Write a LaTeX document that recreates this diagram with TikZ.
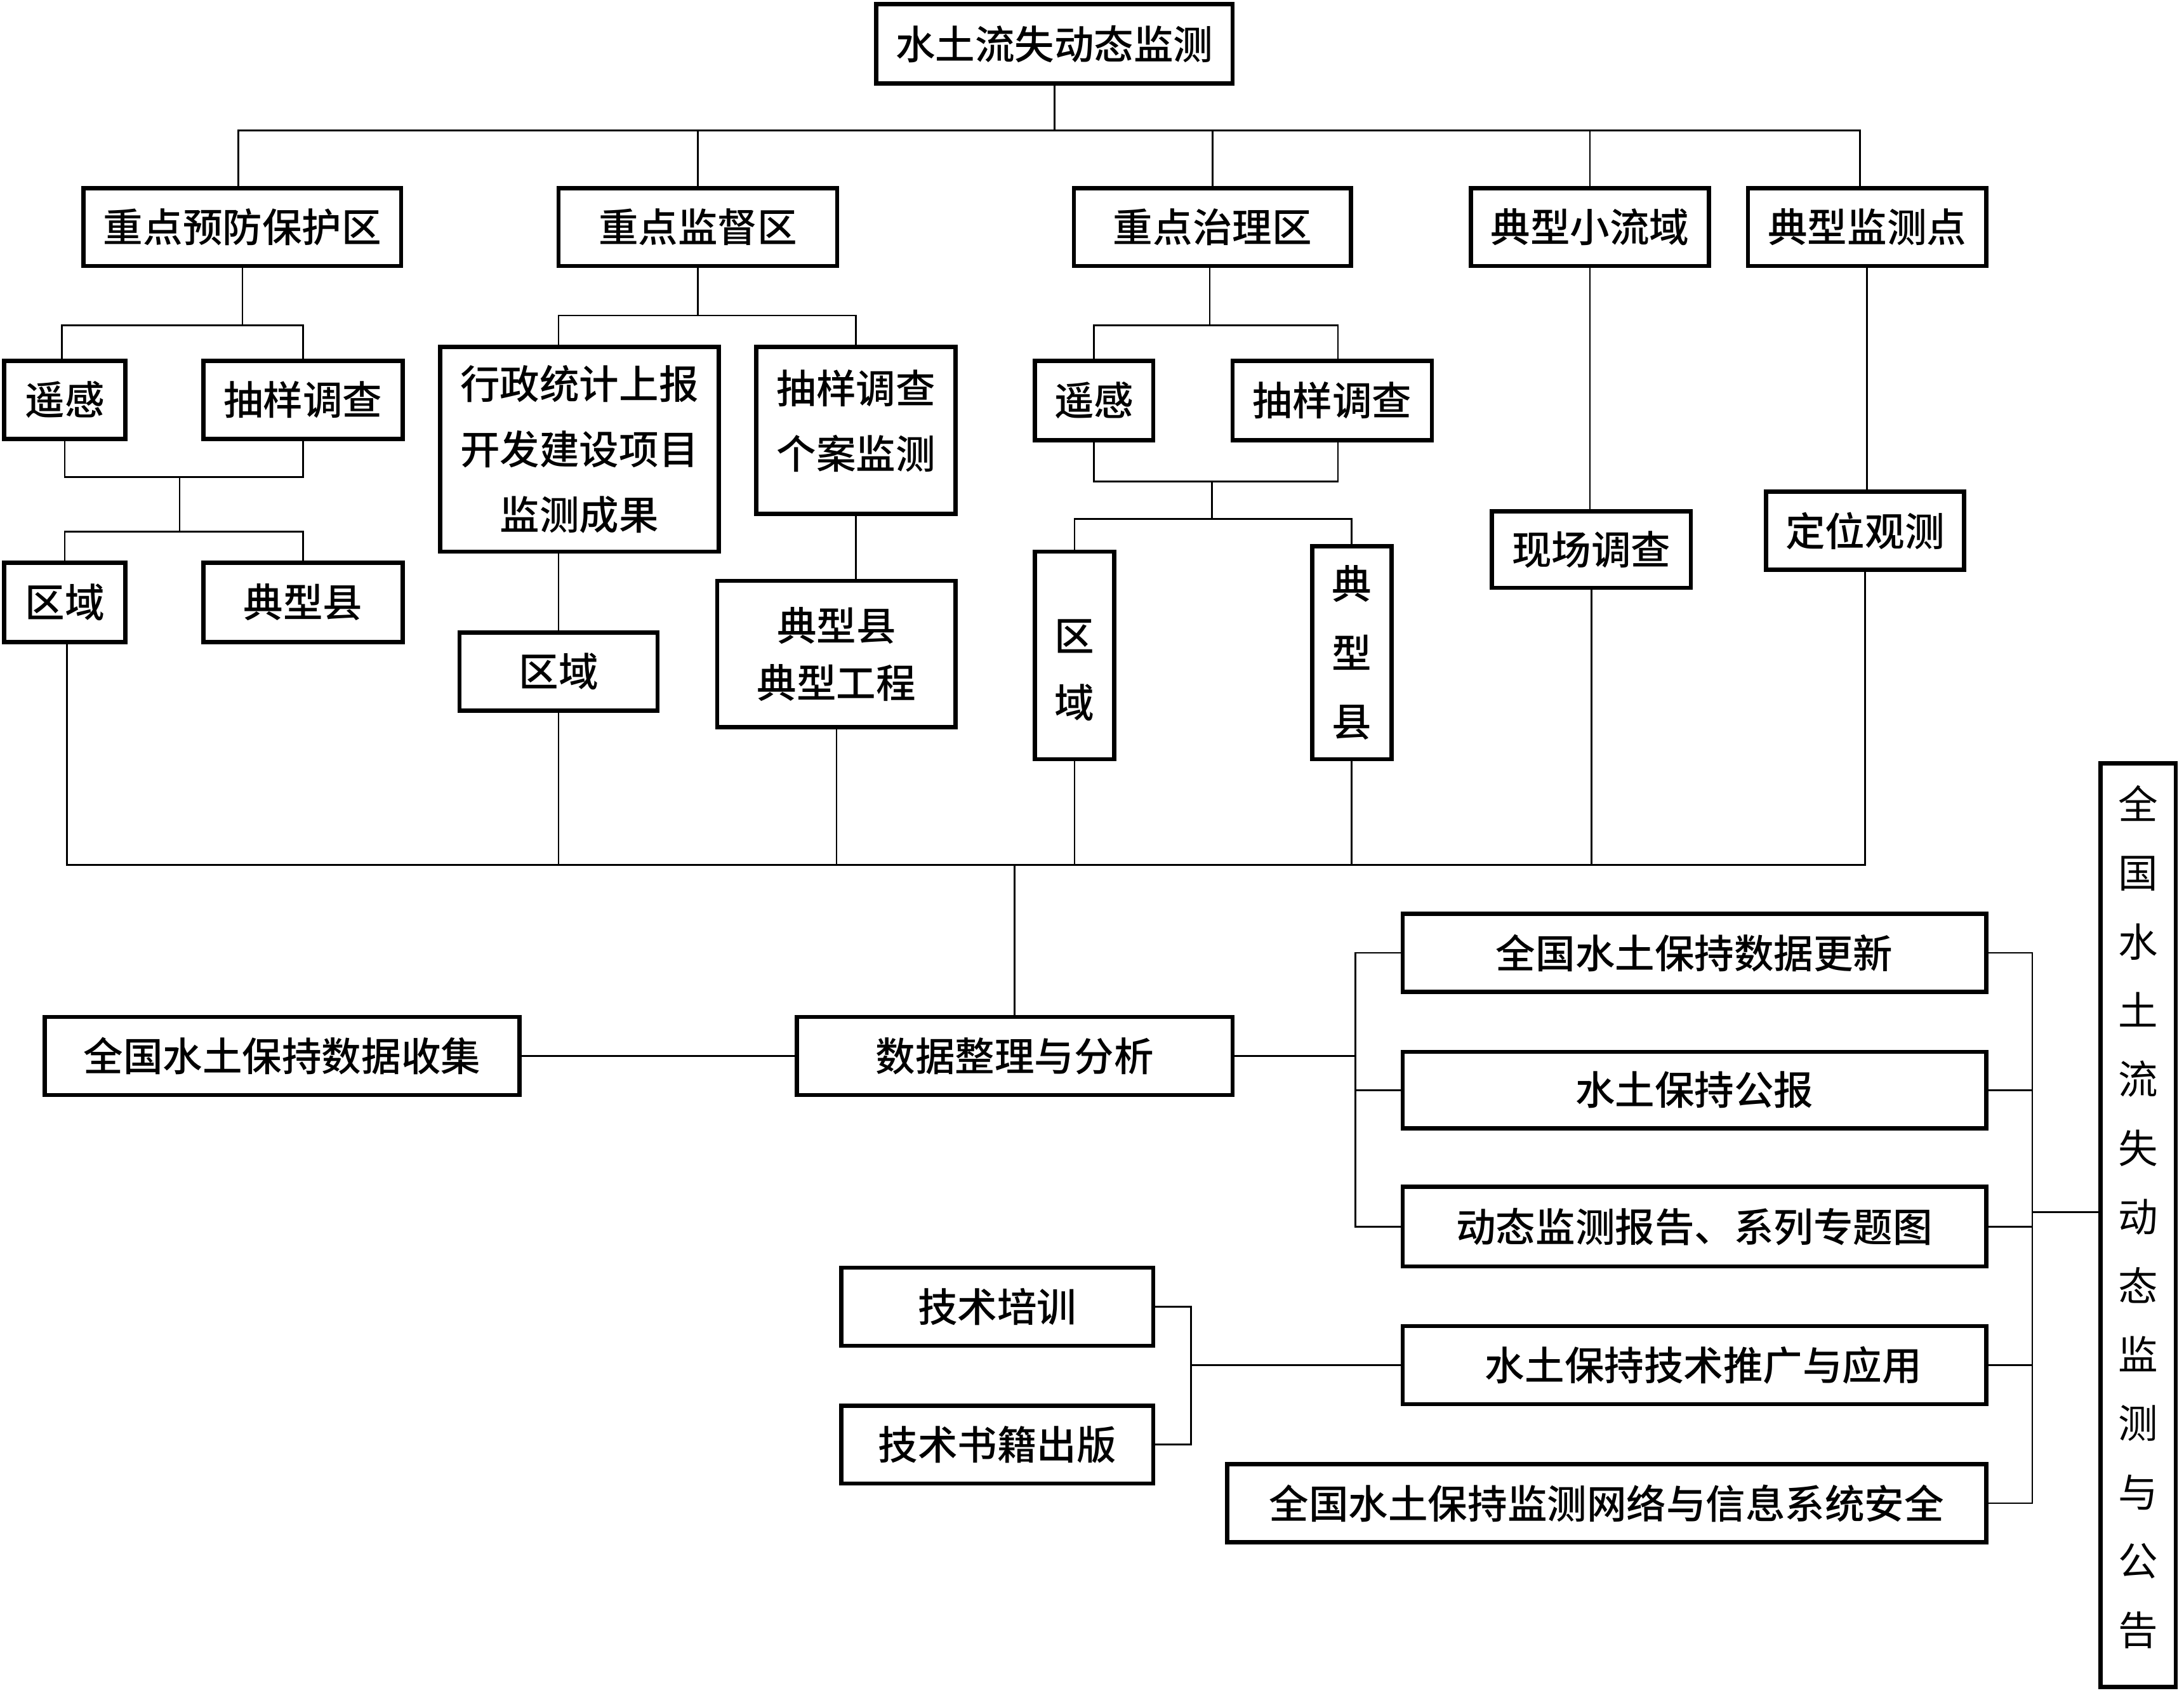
\documentclass[tikz,border=0pt]{standalone}
\usepackage{fontspec}
\usetikzlibrary{calc}
\IfFontExistsTF{Noto Sans CJK SC Medium}{%
  \newfontfamily\cjkb{Noto Sans CJK SC Medium}%
}{%
  \newfontfamily\cjkb{Noto Sans CJK SC}%
}
\newfontfamily\cjkr{Noto Sans CJK SC}
\tikzset{
  box/.style={draw, line width=3pt, inner sep=0pt, align=center,
    font=\cjkb\fontsize{28.5}{47}\selectfont},
  lbl/.style={inner sep=0pt, align=center, font=\cjkb\fontsize{28.5}{47}\selectfont},
  wh/.style 2 args={minimum width=#1pt, minimum height=#2pt},
  conn/.style={line width=1.2pt},
}
\begin{document}
\begin{tikzpicture}[x=1pt,y=-1pt]
\path[use as bounding box, fill=white] (0,0) rectangle (1568,1215);

% top
\node[box,wh={256}{57}] (top) at (757,31.5) {水土流失动态监测};
% level 2
\node[box,wh={228}{56}] (A) at (174,163) {重点预防保护区};
\node[box,wh={200}{56}] (B) at (501,163) {重点监督区};
\node[box,wh={199}{56}] (C) at (870.5,163) {重点治理区};
\node[box,wh={171}{56}] (D) at (1141.5,163) {典型小流域};
\node[box,wh={171}{56}] (E) at (1340.5,163) {典型监测点};
% A subtree
\node[box,wh={87}{56}]  (A1) at (46.5,287) {遥感};
\node[box,wh={143}{56}] (A2) at (217.5,287) {抽样调查};
\node[box,wh={87}{57}]  (A3) at (46.5,432.5) {区域};
\node[box,wh={143}{57}] (A4) at (217.5,432.5) {典型县};
% B subtree
\node[box,wh={200}{147}] (B1) at (416,322.5) {行政统计上报\\开发建设项目\\监测成果};
\node[box,wh={143}{120}] (B2) at (614.5,309) {};
\node[lbl] (B2t) at (614.5,302) {抽样调查\\个案监测};
\node[box,wh={142}{56}]  (B3) at (401,482) {区域};
\node[box,wh={171}{105},font=\cjkb\fontsize{28.5}{41}\selectfont] (B4) at (600.5,469.5) {典型县\\典型工程};
% C subtree
\node[box,wh={85}{57}]  (C1) at (785.5,287.5) {遥感};
\node[box,wh={143}{57}] (C2) at (956.5,287.5) {抽样调查};
\node[box,wh={57}{149}] (C3) at (771.5,470.5) {};
\node[lbl,font=\cjkb\fontsize{28.5}{48}\selectfont] (C3t) at (771.5,481) {区\\域};
\node[box,wh={57}{153},font=\cjkb\fontsize{28.5}{49.5}\selectfont] (C4) at (970.5,468.5) {典\\型\\县};
% D, E
\node[box,wh={143}{55}] (D1) at (1142.5,394.5) {现场调查};
\node[box,wh={142}{56}] (E1) at (1339,381) {定位观测};
% bottom part
\node[box,wh={313}{56}] (F) at (728.5,758) {数据整理与分析};
\node[box,wh={341}{56}] (G) at (202.5,758) {全国水土保持数据收集};
\node[box,wh={419}{56}] (R1) at (1216.5,684) {全国水土保持数据更新};
\node[box,wh={419}{55}] (R2) at (1216.5,782.5) {水土保持公报};
\node[box,wh={419}{57}] (R3) at (1216.5,880.5) {动态监测报告、系列专题图};
\node[box,wh={419}{56}] (R4) at (1216.5,980) {};
\node[lbl] (R4t) at (1223,980) {水土保持技术推广与应用};
\node[box,wh={545}{56}] (R5) at (1153.5,1079) {全国水土保持监测网络与信息系统安全};
\node[box,wh={224}{56}] (T1) at (716,938) {技术培训};
\node[box,wh={224}{56}] (T2) at (716,1037) {技术书籍出版};
\node[box,wh={54}{663}] (V) at (1535,879.5) {};
\node[lbl,font=\cjkr\fontsize{28.5}{49.4}\selectfont] (Vt) at (1535,873.5)
  {全\\国\\水\\土\\流\\失\\动\\态\\监\\测\\与\\公\\告};

% --- connectors ---
\coordinate (tb) at ($(top.south)+(0,32)$);
\draw[conn] (top.south) -- (tb);
\draw[conn] ([xshift=-3pt]A.north) |- (tb) -| ([xshift=-5pt]E.north);
\foreach \n in {B,C,D} \draw[conn] (\n.north) -- (\n.north |- tb);

% A subtree
\coordinate (a1) at ($(A.south)+(0,41)$);
\draw[conn] (A.south) -- (a1);
\draw[conn] ([xshift=-2pt]A1.north) |- (a1) -| (A2.north);
\coordinate (a2) at ($(A1.south)!0.5!(A2.south)+(-3,26)$);
\draw[conn] (A1.south) |- (a2) -| (A2.south);
\coordinate (a3) at ($(a2)+(0,39)$);
\draw[conn] (a2) -- (a3);
\draw[conn] (A3.north) |- (a3) -| (A4.north);

% B subtree
\coordinate (b1) at ($(B.south)+(0,34)$);
\draw[conn] (B.south) -- (b1);
\draw[conn] (B1.north -| B3.north) |- (b1) -| (B2.north);
\draw[conn] (B1.south -| B3.north) -- (B3.north);
\draw[conn] (B2.south) -- (B2.south |- B4.north);

% C subtree
\coordinate (c1) at ($(C.south)+(-2,41)$);
\draw[conn] (C.south) ++(-2,0) -- (c1);
\draw[conn] (C1.north) |- (c1) -| ([xshift=4pt]C2.north);
\coordinate (c2) at ($(C1.south)!0.5!(C2.south)+(-1,28)$);
\draw[conn] (C1.south) |- (c2) -| ([xshift=4pt]C2.south);
\coordinate (c3) at ($(c2)+(0,27)$);
\draw[conn] (c2) -- (c3);
\draw[conn] (C3.north) |- (c3) -| (C4.north);

% D, E
\draw[conn] (D.south) -- (D.south |- D1.north);
\draw[conn] (E.south) -- (E.south |- E1.north);

% bottom bus
\coordinate (bbref) at (0,621);
\coordinate (bb) at (F.north |- bbref);
\draw[conn] ([xshift=1.5pt]A3.south) |- (bb) -| (E1.south);
\foreach \n in {B3,B4,C3,C4,D1} \draw[conn] (\n.south) -- (\n.south |- bb);
\draw[conn] (bb) -- (F.north);

% data collection / analysis
\draw[conn] (G.east) -- (F.west);
\coordinate (fx) at (973,0);
\draw[conn] (F.east) -- (F.east -| fx);
\draw[conn] (R1.west) -- (R1.west -| fx) -- (R3.west -| fx) -- (R3.west);
\draw[conn] (R2.west) -- (R2.west -| fx);

% technology
\coordinate (tx) at (855,0);
\draw[conn] (T1.east) -- (T1.east -| tx) -- (T2.east -| tx) -- (T2.east);
\draw[conn] (R4.west) -- (R4.west -| tx);

% right bracket
\coordinate (rx) at (1459,0);
\draw[conn] (R1.east) -- (R1.east -| rx) -- (R5.east -| rx) -- (R5.east);
\foreach \n in {R2,R3,R4} \draw[conn] (\n.east) -- (\n.east -| rx);
\coordinate (vy) at (0,870);
\draw[conn] (V.west |- vy) -- (rx |- vy);
\end{tikzpicture}
\end{document}
